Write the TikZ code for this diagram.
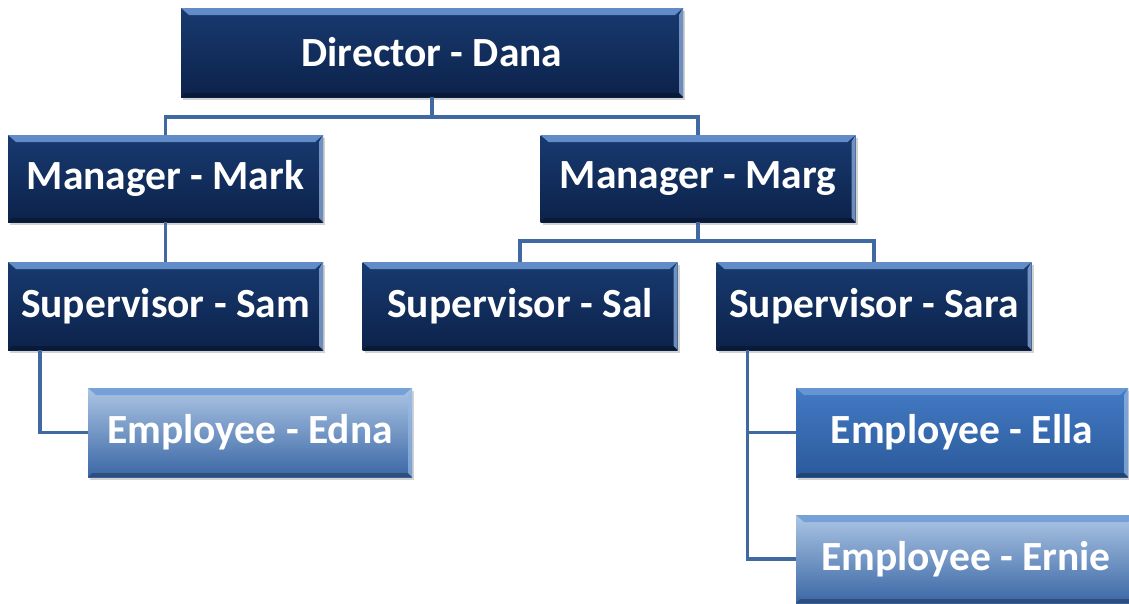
\documentclass[tikz,border=0pt]{standalone}
\usepackage{fontspec}
\newfontfamily\carlito{Carlito}
\usetikzlibrary{shadows}
\definecolor{darktop}{RGB}{24,58,112}
\definecolor{darkbot}{RGB}{12,34,74}
\definecolor{midtop}{RGB}{66,122,196}
\definecolor{midbot}{RGB}{44,90,155}
\definecolor{lighttop}{RGB}{172,197,228}
\definecolor{lightbot}{RGB}{58,103,165}
\definecolor{bevel}{RGB}{110,155,215}
\definecolor{bevelside}{RGB}{150,185,230}
\definecolor{conncol}{RGB}{64,105,162}
\tikzset{
  orgbox/.style={rectangle, inner sep=0pt, text=white,
    font=\carlito\bfseries\fontsize{41.5}{41.5}\selectfont,
    drop shadow={opacity=0.35, shadow xshift=2pt, shadow yshift=-3pt},
    path picture={
      \fill[bevel, opacity=0.85] (path picture bounding box.north west) -- (path picture bounding box.north east)
        -- ([xshift=-8pt,yshift=-7pt]path picture bounding box.north east)
        -- ([xshift=8pt,yshift=-7pt]path picture bounding box.north west) -- cycle;
      \fill[bevelside, opacity=0.7] (path picture bounding box.north east) -- (path picture bounding box.south east)
        -- ([xshift=-4pt,yshift=4pt]path picture bounding box.south east)
        -- ([xshift=-4pt,yshift=-7pt]path picture bounding box.north east) -- cycle;
      \fill[black, opacity=0.25] (path picture bounding box.south west) -- (path picture bounding box.south east)
        -- ([xshift=-4pt,yshift=4pt]path picture bounding box.south east)
        -- ([xshift=4pt,yshift=4pt]path picture bounding box.south west) -- cycle;
    }},
  darkbox/.style={orgbox, top color=darktop, bottom color=darkbot},
  midbox/.style={orgbox, top color=midtop, bottom color=midbot},
  lightbox/.style={orgbox, top color=lighttop, bottom color=lightbot},
  conn/.style={draw=conncol, line width=3.5pt}
}
\begin{document}
\begin{tikzpicture}[x=1pt, y=-1pt]
\useasboundingbox (0,0) rectangle (1129,603);
\fill[white] (0,0) rectangle (1129,603);
\node[darkbox, minimum width=502pt, minimum height=89pt] (dir) at (432,52.5) {Director - Dana};
\node[darkbox, minimum width=315pt, minimum height=87pt] (mark) at (165.5,178.5) {Manager - Mark};
\node[darkbox, minimum width=315pt, minimum height=87pt] (marg) at (698,178.5) {Manager - Marg};
\node[darkbox, minimum width=315pt, minimum height=88pt] (sam) at (165.5,306) {Supervisor - Sam};
\node[darkbox, minimum width=315pt, minimum height=88pt] (sal) at (520,306) {Supervisor - Sal};
\node[darkbox, minimum width=315pt, minimum height=88pt] (sara) at (874,306) {Supervisor - Sara};
\node[lightbox, minimum width=324pt, minimum height=89pt] (edna) at (250,432.5) {Employee - Edna};
\node[midbox, minimum width=332pt, minimum height=89pt] (ella) at (962,432.5) {Employee - Ella};
\node[lightbox, minimum width=340pt, minimum height=88pt] (ernie) at (966,559) {Employee - Ernie};
\draw[conn] (dir.south) -- ++(0,20) -| (mark.north);
\draw[conn] (dir.south) -- ++(0,20) -| (marg.north);
\draw[conn] (mark.south) -- (sam.north);
\draw[conn] (marg.south) -- ++(0,19) -| (sal.north);
\draw[conn] (marg.south) -- ++(0,19) -| (sara.north);
\draw[conn] ([xshift=32pt]sam.south west) |- (edna.west);
\draw[conn] ([xshift=31pt]sara.south west) |- (ella.west);
\draw[conn] ([xshift=31pt]sara.south west) |- (ernie.west);
\end{tikzpicture}
\end{document}
